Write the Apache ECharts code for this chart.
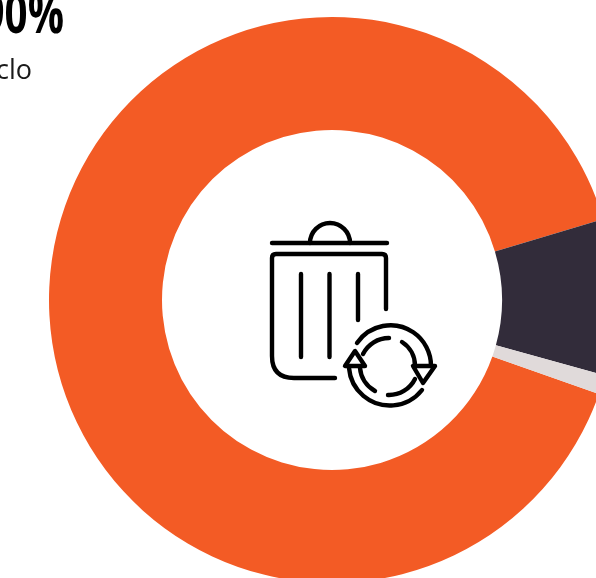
<!DOCTYPE html>
<html><head><meta charset="utf-8">
<style>html,body{margin:0;padding:0;background:#fff;overflow:hidden}#c{width:596px;height:578px}</style>
<script src="https://cdn.jsdelivr.net/npm/echarts@6/dist/echarts.min.js"></script>
</head><body><div id="c"></div>
<script>
const categories = ["Reciclado", "Otros", "Resto"];
const values = [90, 8.9, 1.1];
const colors = ["#f35b25", "#322c3a", "#e0dada"];
const headline = "90%";
const caption = "reciclo";

const iconPaths = [
  "M272 243H387",
  "M310 243A20 20 0 0 1 350 243",
  "M386 309V258Q386 254 382 254H276Q272 254 272 258V356Q272 378 294 378H335",
  "M301 274V357", "M329.5 274V357", "M358 274V320",
  "M357 343A40.5 40.5 0 0 1 431 366",
  "M349 368A41 41 0 0 0 422 390",
  "M363 354A29 29 0 0 1 389 338",
  "M402 342A28 28 0 0 1 415 366",
  "M360 368A29 29 0 0 0 375 391",
  "M388 395A29 29 0 0 0 415 379",
  "M413 366H435L423 383Z",
  "M355 351L345 366H365Z"
];

const chart = echarts.init(document.getElementById('c'), null, {renderer:'canvas'});
chart.setOption({
  animation:false,
  series:[{
    type:'pie', center:[332,300], radius:[170,283], startAngle:340.6, clockwise:true,
    label:{show:false}, labelLine:{show:false}, silent:true,
    itemStyle:{borderWidth:0},
    data:categories.map((n,i)=>({name:n,value:values[i],itemStyle:{color:colors[i]}}))
  },{
    type:'custom', coordinateSystem:'none', silent:true, data:[0],
    renderItem:()=>({type:'group',children:iconPaths.map(d=>({
      type:'path',shape:{pathData:d},
      style:{fill:'none',stroke:'#000',lineWidth:4.4,lineCap:'round',lineJoin:'round'}
    }))})
  }],
  graphic:[
    {type:'text',x:64,y:-11,scaleX:0.72,style:{text:headline,align:'right',verticalAlign:'top',font:'bold 56px "Open Sans"',fill:'#000'}},
    {type:'text',x:32,y:58,style:{text:caption,align:'right',verticalAlign:'top',font:'27px "Open Sans"',fill:'#1a1a1a'}}
  ]
});
</script></body></html>
